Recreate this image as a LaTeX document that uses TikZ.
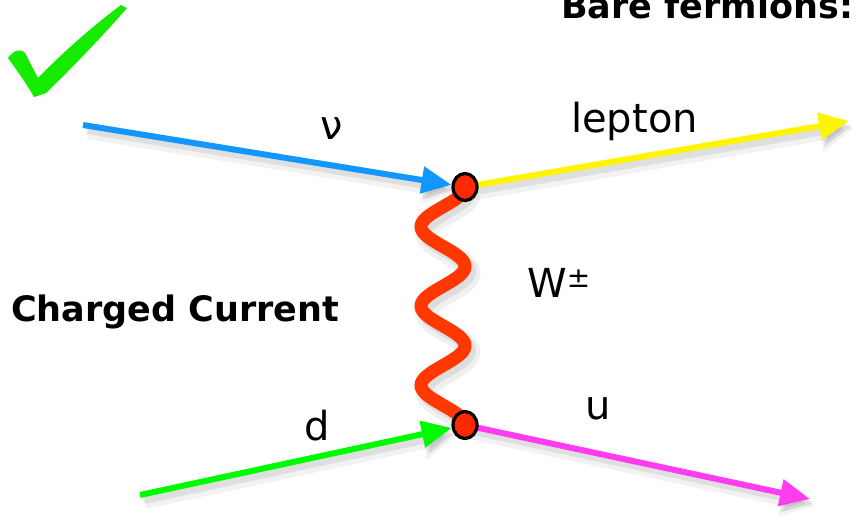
\documentclass[tikz,border=0pt]{standalone}
\usepackage{fontspec}
\setmainfont{DejaVu Sans}
\usetikzlibrary{arrows.meta,shapes.geometric}
\definecolor{nublue}{RGB}{20,150,255}
\definecolor{lepyellow}{RGB}{255,245,0}
\definecolor{dgreen}{RGB}{0,250,0}
\definecolor{umag}{RGB}{255,60,240}
\definecolor{wred}{RGB}{255,55,0}
\definecolor{vred}{RGB}{255,40,0}
\definecolor{checkgreen}{RGB}{20,235,0}
\tikzset{
  fermion/.style={line width=6pt, -{Triangle[length=30pt,width=26pt]}},
  shadowwide/.style={line width=14pt, draw=black, opacity=0.05, -{Triangle[length=34pt,width=34pt]}, transform canvas={shift={(5pt,-7pt)}}},
  shadowline/.style={line width=8pt, draw=black, opacity=0.08, -{Triangle[length=31pt,width=28pt]}, transform canvas={shift={(4pt,-5pt)}}},
  boson/.style={line width=13pt, draw=wred},
  bosonshadow/.style={line width=21pt, draw=black, opacity=0.06, transform canvas={shift={(5pt,-7pt)}}},
  bosonshadowin/.style={line width=14pt, draw=black, opacity=0.08, transform canvas={shift={(4pt,-5pt)}}},
  vertex/.style={ellipse, fill=vred, draw=black, line width=3.2pt, minimum width=24pt, minimum height=27pt, inner sep=0pt},
  lbl/.style={font=\fontsize{40}{46}\selectfont, inner sep=0pt},
  title/.style={font=\fontsize{35}{41}\selectfont\bfseries, inner sep=0pt}
}
\begin{document}
\begin{tikzpicture}[x=1pt,y=-1pt]
\useasboundingbox (0,0) rectangle (856,520);
\fill[white] (0,0) rectangle (856,520);
% coordinates
\coordinate (nuStart) at (83,125);
\coordinate (lepEnd) at (849,121);
\coordinate (dStart) at (140,495);
\coordinate (uEnd) at (810,499);
\node[vertex, opacity=0] (vt) at (465,187) {};
\node[vertex, opacity=0] (vb) at (465,425) {};
% shadows
\foreach \s in {shadowwide,shadowline}{
  \draw[\s] (nuStart) -- (vt);
  \draw[\s] (vt.center) -- (lepEnd);
  \draw[\s] (dStart) -- (vb);
  \draw[\s] (vb.center) -- (uEnd);
}
\draw[bosonshadow] plot[domain=0:1, samples=120, smooth] ({443+22*cos(6*180*\x)}, {187+238*\x});
\draw[bosonshadowin] plot[domain=0:1, samples=120, smooth] ({443+22*cos(6*180*\x)}, {187+238*\x});
% boson
\draw[boson] plot[domain=0:1, samples=120, smooth] ({443+22*cos(6*180*\x)}, {187+238*\x});
% fermions
\draw[fermion, draw=nublue, fill=nublue] (nuStart) -- (vt);
\draw[fermion, draw=lepyellow, fill=lepyellow] (vt.center) -- (lepEnd);
\draw[fermion, draw=dgreen, fill=dgreen] (dStart) -- (vb);
\draw[fermion, draw=umag, fill=umag] (vb.center) -- (uEnd);
% vertices
\node[vertex] (vt2) at (vt) {};
\node[vertex] (vb2) at (vb) {};
% labels
\node[lbl, anchor=base] (nu) at (332,139) {ν};
\node[lbl, anchor=base west] (lep) at (571,132) {lepton};
\node[lbl, anchor=base west] (w) at (527,297) {W\textsuperscript{±}};
\node[lbl, anchor=base west] (d) at (304,440) {d};
\node[lbl, anchor=base west] (u) at (585,419) {u};
\node[title, anchor=base west] (cc) at (11,321) {Charged Current};
\node[title, anchor=base west] (bf) at (561,18) {Bare fermions:};
% check mark
\fill[checkgreen] (8,58) .. controls (14,50) and (20,48) .. (25,53)
  -- (38,78) .. controls (65,50) and (98,22) .. (121,5)
  -- (127,8) .. controls (108,30) and (78,62) .. (46,93)
  -- (34,97) .. controls (28,86) and (18,72) .. (8,58) -- cycle;
\end{tikzpicture}
\end{document}
